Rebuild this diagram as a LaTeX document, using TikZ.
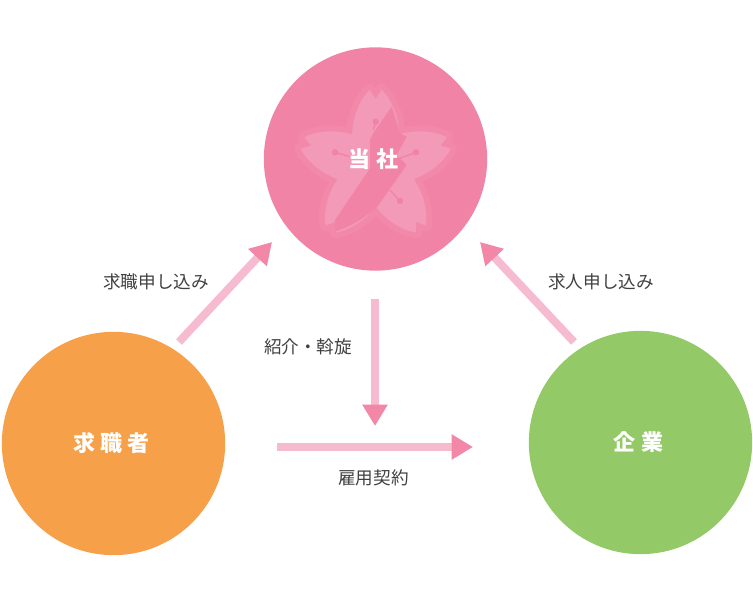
\documentclass[tikz,border=0pt]{standalone}
\usepackage{fontspec}
\usepackage{xcolor}
\usetikzlibrary{arrows.meta}
\setmainfont{Noto Sans CJK JP}
\newfontfamily\jpspaced[LetterSpace=24]{Noto Sans CJK JP}
\definecolor{circlepink}{HTML}{F183A6}
\definecolor{rimpink}{HTML}{F288AA}
\definecolor{petalpink}{HTML}{F39AB8}
\definecolor{shaftpink}{HTML}{F6BBD0}
\definecolor{headpink}{HTML}{F287A8}
\definecolor{seekerorange}{HTML}{F6A04A}
\definecolor{companygreen}{HTML}{93C966}
\definecolor{labelgray}{HTML}{404040}
\tikzset{
  party/.style={circle,minimum size=167.5pt,inner sep=0pt},
  partylabel/.style={text=white,xshift=-1.5pt,font=\jpspaced\bfseries\fontsize{16.5pt}{18pt}\selectfont},
  flowlabel/.style={text=labelgray,font=\fontsize{13.2pt}{16pt}\selectfont},
  flow/.style={line width=6pt,draw=shaftpink,
    -{Triangle[length=16pt,width=18pt,color=headpink]}},
  petal/.pic={
    \path[pic actions] (-23.5,-32.4) .. controls (-23,-52) and (-15,-68) .. (-6,-77)
      -- (0,-68) -- (6,-77) .. controls (15,-68) and (23,-52) .. (23.5,-32.4) -- (0,0) -- cycle;
  }
}
\begin{document}
\begin{tikzpicture}[x=0.75pt,y=-0.75pt]
    \useasboundingbox (0,0) rectangle (753,602);
    \draw[] (375.5,159) node[party,fill=circlepink] (Tosha) {};
    \draw[] (113.5,443.5) node[party,fill=seekerorange] (Seeker) {};
    \draw[] (640.5,442.5) node[party,fill=companygreen] (Company) {};
    % blossom
    \coordinate (blossom) at (375.7,166.7);
    \foreach \ang in {0,72,144,216,288}
      \path (blossom) pic[rotate=\ang,draw=rimpink,fill=rimpink,line width=9pt,line join=round] {petal};
    \foreach \ang in {0,72,144,216,288}
      \path (blossom) pic[rotate=\ang,fill=petalpink] {petal};
    \fill[petalpink,shift={(blossom)}] (-54:40) -- (-126:40) -- (162:40) -- (90:40) -- (18:40) -- cycle;
    \fill[circlepink] (391.7,106.7) -- (400,133.3) -- (406.7,136.7) -- (396.7,155) -- (406.7,165) -- (377.3,206.7)
      .. controls (365,218.3) and (350,226.7) .. (335,231.7) -- (335,220) -- (370,168.3) -- (370,140) -- (373.3,133.3) -- cycle;
    \foreach \sx/\sy/\ex/\ey in {375.7/121.7/373.3/130,335/152.3/350/156.7,416/152.3/400/158.3,400/201/390/190} {
      \fill[circlepink] (\sx,\sy) circle (3.2);
      \draw[circlepink,line width=1pt] (\sx,\sy) -- (\ex,\ey);
    }
    \draw[] (Tosha) node[partylabel] (ToshaLabel) {当社};
    \draw[] (Seeker) node[partylabel] (SeekerLabel) {求職者};
    \draw[] (Company) node[partylabel] (CompanyLabel) {企業};
    \coordinate (seekerOut) at (179,342);
    \coordinate (seekerIn) at (272,242);
    \coordinate (companyOut) at (574,342);
    \coordinate (companyIn) at (480,242);
    \coordinate (introTop) at (375,299);
    \coordinate (introEnd) at (375,426);
    \coordinate (hireStart) at (277,447);
    \coordinate (hireEnd) at (473,447);
    \draw[flow] (seekerOut) -- (seekerIn);
    \draw[flow] (companyOut) -- (companyIn);
    \draw[flow] (introTop) -- (introEnd);
    \draw[flow] (hireStart) -- (hireEnd);
    \draw[] (156,281.5) node[flowlabel] (seekerApply) {求職申し込み};
    \draw[] (601,281.5) node[flowlabel] (companyApply) {求人申し込み};
    \draw[] (308,346.5) node[flowlabel] (introLabel) {紹介・斡旋};
    \draw[] (373.5,477.5) node[flowlabel] (hireLabel) {雇用契約};
  \end{tikzpicture}
\end{document}
